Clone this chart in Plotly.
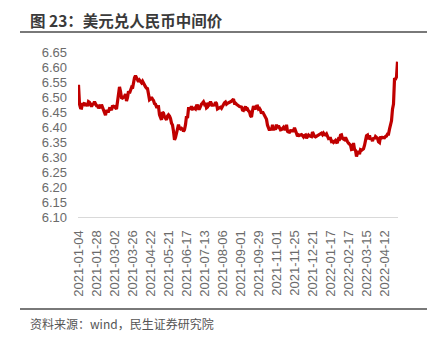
import pandas as pd
import plotly.graph_objects as go

# ---- calendar (China interbank trading days) ----
start_date = "2021-01-04"
end_date = "2022-04-29"
holidays = [
    "2021-02-11", "2021-02-12", "2021-02-15", "2021-02-16", "2021-02-17",
    "2021-04-05", "2021-05-03", "2021-05-04", "2021-05-05", "2021-06-14",
    "2021-09-20", "2021-09-21", "2021-10-01", "2021-10-04", "2021-10-05",
    "2021-10-06", "2021-10-07", "2022-01-03", "2022-01-31", "2022-02-01",
    "2022-02-02", "2022-02-03", "2022-02-04", "2022-04-04", "2022-04-05",
]
days = pd.bdate_range(start_date, end_date)
dates = [d.strftime("%Y-%m-%d") for d in days if d.strftime("%Y-%m-%d") not in holidays]

# ---- USD/CNY central parity ----
v_2021_01 = [6.5408, 6.4760, 6.4633, 6.4626, 6.4760,
             6.4764, 6.4804, 6.4703, 6.4795, 6.4696,
             6.4845, 6.4823, 6.4754, 6.4679, 6.4758,
             6.4763, 6.4845, 6.4797, 6.4709, 6.4709]
v_2021_02 = [6.4630, 6.4679, 6.4629, 6.4746, 6.4669,
             6.4609, 6.4520, 6.4391,
             6.4563, 6.4516,
             6.4516, 6.4612, 6.4607, 6.4563, 6.4713]
v_2021_03 = [6.4672, 6.4679, 6.4645, 6.4601, 6.4845,
             6.5106, 6.5338, 6.5193, 6.4978, 6.4962,
             6.4988, 6.5013, 6.5097, 6.4869, 6.4978,
             6.5191, 6.5125, 6.5191, 6.5315, 6.5282,
             6.5527, 6.5642, 6.5713]
v_2021_04 = [6.5649, 6.5602,
             6.5507, 6.5565, 6.5536, 6.5478,
             6.5527, 6.5448, 6.5380, 6.5340, 6.5296,
             6.5280, 6.5101, 6.4905, 6.4932, 6.4992,
             6.4926, 6.4882, 6.4780, 6.4764, 6.4672]
v_2021_05 = [6.4678, 6.4678,
             6.4405, 6.4325, 6.4236, 6.4495, 6.4462,
             6.4339, 6.4289, 6.4239, 6.4365, 6.4408,
             6.4365, 6.4283, 6.4129, 6.4063, 6.3858,
             6.3572]
v_2021_06 = [6.3647, 6.3773, 6.3956, 6.4078,
             6.3963, 6.3933, 6.3959, 6.3929, 6.3856,
             6.3909, 6.4078, 6.4361, 6.4298,
             6.4613, 6.4613, 6.4613, 6.4691, 6.4599,
             6.4608, 6.4629, 6.4601]
v_2021_07 = [6.4709, 6.4710,
             6.4613, 6.4613, 6.4712, 6.4762, 6.4799,
             6.4841, 6.4762, 6.4795, 6.4640, 6.4666,
             6.4805, 6.4764, 6.4849, 6.4778, 6.4696,
             6.4763, 6.4702, 6.4829, 6.4787, 6.4602]
v_2021_08 = [6.4621, 6.4662, 6.4660, 6.4622, 6.4693,
             6.4780, 6.4805, 6.4833, 6.4762, 6.4791,
             6.4799, 6.4815, 6.4842, 6.4862, 6.4884,
             6.4930, 6.4790, 6.4795, 6.4760, 6.4715,
             6.4710, 6.4684]
v_2021_09 = [6.4679, 6.4666, 6.4568,
             6.4553, 6.4621, 6.4683, 6.4590, 6.4602,
             6.4536, 6.4508, 6.4378, 6.4336, 6.4544,
             6.4693, 6.4625, 6.4624,
             6.4693, 6.4699, 6.4600, 6.4620]
v_2021_10 = [6.4560,
             6.4447, 6.4512, 6.4447, 6.4386, 6.4357,
             6.4254, 6.4060, 6.3990, 6.3890, 6.3960,
             6.3890, 6.4073, 6.3890, 6.3988, 6.3907]
v_2021_11 = [6.4078, 6.3959, 6.4040, 6.3970, 6.3903,
             6.3912, 6.3959, 6.3989, 6.3930, 6.3929,
             6.4071, 6.3856, 6.3830, 6.3825, 6.3880,
             6.3885, 6.3870, 6.3870, 6.3975, 6.3850,
             6.3794, 6.3693]
v_2021_12 = [6.3738, 6.3719, 6.3738,
             6.3750, 6.3712, 6.3669, 6.3719, 6.3735,
             6.3625, 6.3668, 6.3732, 6.3702, 6.3685,
             6.3677, 6.3832, 6.3746, 6.3688, 6.3670,
             6.3690, 6.3712, 6.3723, 6.3745, 6.3757]
v_2022_01 = [6.3794, 6.3744, 6.3796, 6.3746,
             6.3735, 6.3770, 6.3703, 6.3614, 6.3625,
             6.3624, 6.3512, 6.3521, 6.3485, 6.3542,
             6.3550, 6.3487, 6.3497, 6.3605, 6.3594]
v_2022_02 = [6.3725, 6.3739, 6.3620, 6.3613, 6.3580,
             6.3653, 6.3550, 6.3508, 6.3463, 6.3440,
             6.3393, 6.3246, 6.3255, 6.3465, 6.3260,
             6.3222]
v_2022_03 = [6.3014, 6.3135, 6.3190, 6.3095,
             6.3242, 6.3222, 6.3272, 6.3275, 6.3384,
             6.3593, 6.3712, 6.3733, 6.3590, 6.3720,
             6.3580, 6.3625, 6.3530, 6.3643, 6.3600,
             6.3682, 6.3657, 6.3620, 6.3509]
v_2022_04 = [6.3482,
             6.3680, 6.3635, 6.3651,
             6.3659, 6.3640, 6.3681, 6.3700, 6.3763,
             6.3763, 6.3930, 6.4098, 6.4207, 6.4596,
             6.4762, 6.5590, 6.5598, 6.5672, 6.6177]

values = (v_2021_01 + v_2021_02 + v_2021_03 + v_2021_04 + v_2021_05 + v_2021_06 +
          v_2021_07 + v_2021_08 + v_2021_09 + v_2021_10 + v_2021_11 + v_2021_12 +
          v_2022_01 + v_2022_02 + v_2022_03 + v_2022_04)
assert len(values) == len(dates), (len(values), len(dates))

tick_labels = ["2021-01-04", "2021-01-28", "2021-03-02", "2021-03-26", "2021-04-22",
               "2021-05-21", "2021-06-17", "2021-07-13", "2021-08-06", "2021-09-01",
               "2021-09-29", "2021-11-01", "2021-11-25", "2021-12-21", "2022-01-17",
               "2022-02-17", "2022-03-15", "2022-04-12"]
y_ticks = [6.10, 6.15, 6.20, 6.25, 6.30, 6.35, 6.40, 6.45, 6.50, 6.55, 6.60, 6.65]

title_text = "图 23：美元兑人民币中间价"
source_text = "资料来源：wind，民生证券研究院"

# ---- layout geometry (pixels) ----
W, H = 439, 342
ML, MR, MT, MB = 78, 41, 52, 125
plot_w = W - ML - MR
plot_h = H - MT - MB


def px_x(px):
    return (px - ML) / plot_w


def px_y(py):
    return (H - MB - py) / plot_h


fig = go.Figure()
fig.add_trace(go.Scatter(
    x=dates, y=values, mode="lines",
    line=dict(color="#C00000", width=3.2),
    hoverinfo="skip", showlegend=False,
))

label_font = dict(family="Liberation Sans, Arial, sans-serif", size=13, color="#6b6b6b")

fig.update_layout(
    width=W, height=H,
    margin=dict(l=ML, r=MR, t=MT, b=MB, pad=0),
    paper_bgcolor="white", plot_bgcolor="white",
    xaxis=dict(
        type="category", range=[-0.5, len(dates) - 0.5],
        tickmode="array", tickvals=tick_labels, ticktext=tick_labels,
        tickangle=-90, tickfont=label_font, ticks="",
        ticklabelstandoff=7,
        showgrid=False, zeroline=False, showline=True,
        linecolor="#d9d9d9", linewidth=1, automargin=False,
    ),
    yaxis=dict(
        range=[6.10, 6.65], tickmode="array", tickvals=y_ticks,
        ticktext=[f"{t:.2f}" for t in y_ticks],
        tickfont=label_font, ticks="", ticklabelstandoff=10,
        showgrid=False, zeroline=False, showline=False, automargin=False,
    ),
    shapes=[
        dict(type="line", xref="paper", yref="paper",
             x0=px_x(20), x1=px_x(427), y0=px_y(32), y1=px_y(32),
             line=dict(color="#4d4d4d", width=1.6)),
        dict(type="line", xref="paper", yref="paper",
             x0=px_x(20), x1=px_x(427), y0=px_y(309), y1=px_y(309),
             line=dict(color="#4d4d4d", width=1.6)),
    ],
    annotations=[
        dict(text="<b>" + title_text + "</b>", xref="paper", yref="paper",
             x=px_x(28), y=px_y(20), xanchor="left", yanchor="middle",
             showarrow=False,
             font=dict(family="Noto Sans CJK SC, sans-serif", size=15.5, color="#3a3a3a")),
        dict(text=source_text, xref="paper", yref="paper",
             x=px_x(28), y=px_y(323), xanchor="left", yanchor="middle",
             showarrow=False,
             font=dict(family="Noto Sans CJK SC, sans-serif", size=12, color="#555555")),
    ],
)

fig.write_html("out.html")
